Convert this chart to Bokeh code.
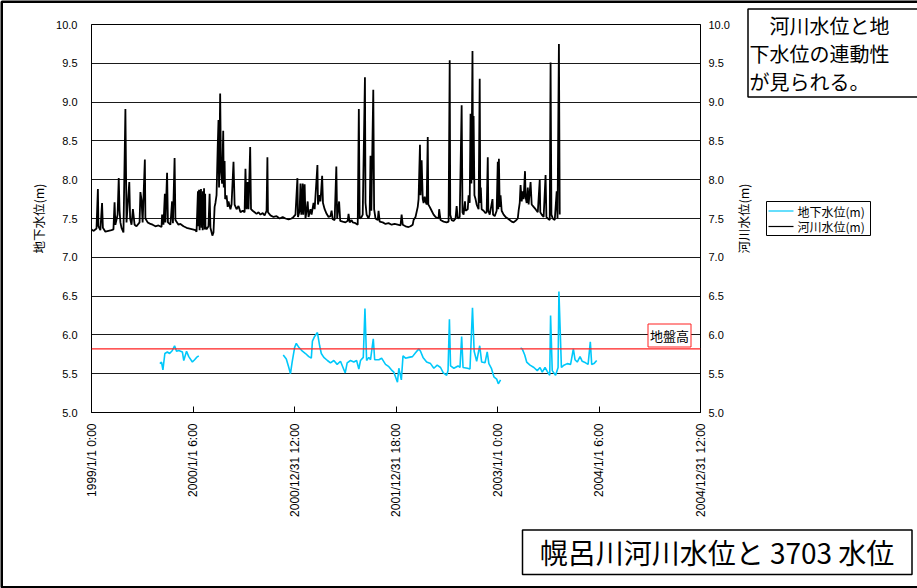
import math

import numpy as np
import pandas as pd
from bokeh.core.properties import value
from bokeh.embed import file_html
from bokeh.models import (FixedTicker, Label, LinearAxis, PrintfTickFormatter,
                          Range1d, Span)
from bokeh.plotting import figure
from bokeh.resources import INLINE

# ---------------------------------------------------------------- data
RECORD_START = pd.Timestamp("1999-01-01 00:00")

# River stage (m), elapsed days since the record start
river_days = [
    0, 7, 18, 23, 25, 32, 38, 41, 50, 61,
    72, 79, 83, 86, 94, 98, 101, 104, 108, 115,
    122, 126, 136, 139, 144, 149, 155, 162, 173, 176,
    180, 184, 192, 194, 202, 212, 220, 230, 241, 252,
    254, 259, 264, 266, 272, 275, 284, 290, 293, 299,
    302, 313, 320, 331, 342, 353, 364, 374, 378, 383,
    385, 387, 389, 391, 392, 394, 396, 398, 400, 401,
    403, 405, 407, 409, 410, 414, 421, 425, 428, 435,
    439, 443, 446, 450, 454, 457, 459, 463, 466, 470,
    474, 476, 479, 481, 486, 490, 493, 500, 504, 511,
    515, 522, 529, 536, 544, 551, 554, 558, 562, 565,
    571, 574, 580, 587, 594, 601, 608, 616, 623, 630,
    633, 635, 644, 655, 666, 677, 688, 698, 709, 720,
    727, 734, 741, 743, 749, 752, 755, 760, 762, 767,
    770, 774, 778, 781, 788, 792, 799, 803, 813, 815,
    821, 824, 830, 833, 839, 846, 853, 860, 864, 868,
    875, 881, 884, 891, 895, 904, 914, 922, 925, 929,
    936, 940, 950, 958, 962, 965, 972, 976, 984, 986,
    990, 997, 1001, 1004, 1007, 1014, 1017, 1022, 1030, 1033,
    1037, 1048, 1058, 1069, 1080, 1091, 1102, 1112, 1116, 1120,
    1130, 1141, 1148, 1156, 1159, 1166, 1174, 1177, 1182, 1184,
    1188, 1192, 1195, 1199, 1202, 1206, 1210, 1212, 1217, 1224,
    1231, 1238, 1249, 1251, 1256, 1267, 1278, 1285, 1289, 1291,
    1296, 1303, 1310, 1314, 1318, 1325, 1332, 1335, 1339, 1344,
    1346, 1354, 1357, 1361, 1364, 1367, 1371, 1373, 1375, 1378,
    1382, 1386, 1393, 1397, 1399, 1401, 1404, 1411, 1418, 1422,
    1426, 1428, 1433, 1443, 1445, 1451, 1458, 1462, 1464, 1466,
    1469, 1472, 1476, 1483, 1490, 1498, 1505, 1512, 1519, 1526,
    1534, 1537, 1541, 1544, 1548, 1552, 1555, 1560, 1562, 1566,
    1570, 1573, 1580, 1584, 1591, 1598, 1606, 1613, 1615, 1620,
    1627, 1634, 1637, 1642, 1649, 1652, 1655, 1660, 1667, 1674,
    1677, 1682, 1685,
]
river_level = [
    7.36, 7.34, 7.37, 7.88, 7.40, 7.35, 7.70, 7.38, 7.33, 7.34,
    7.35, 7.36, 7.71, 7.42, 7.55, 8.02, 7.60, 7.45, 7.38, 7.32,
    8.91, 7.45, 7.97, 7.50, 7.42, 7.62, 7.42, 7.40, 7.45, 7.84,
    7.74, 7.45, 8.26, 7.50, 7.45, 7.43, 7.42, 7.40, 7.41, 7.39,
    7.55, 7.42, 7.82, 7.45, 8.09, 7.45, 7.42, 7.72, 7.44, 8.28,
    7.48, 7.42, 7.43, 7.40, 7.38, 7.37, 7.36, 7.35, 7.33, 7.85,
    7.40, 7.87, 7.35, 7.86, 7.45, 7.88, 7.38, 7.80, 7.35, 7.85,
    7.42, 7.89, 7.36, 7.82, 7.40, 7.36, 7.40, 7.82, 7.38, 7.28,
    7.32, 7.65, 7.70, 7.80, 8.40, 8.77, 7.90, 9.11, 8.10, 7.95,
    8.63, 7.90, 8.24, 7.75, 7.80, 7.65, 7.72, 7.62, 7.68, 8.23,
    7.68, 7.62, 7.66, 7.58, 7.60, 7.58, 8.14, 7.62, 7.97, 7.62,
    8.42, 7.62, 7.60, 7.58, 7.56, 7.58, 7.55, 7.57, 7.54, 7.60,
    8.29, 7.58, 7.54, 7.52, 7.53, 7.50, 7.52, 7.50, 7.49, 7.50,
    7.52, 7.55, 8.02, 7.52, 7.60, 7.95, 7.55, 7.95, 7.55, 7.94,
    7.50, 7.60, 7.72, 7.52, 7.62, 7.55, 7.70, 7.62, 8.19, 7.68,
    7.80, 7.72, 8.05, 7.70, 7.62, 7.56, 7.52, 7.53, 7.60, 7.49,
    7.48, 8.17, 7.50, 7.72, 7.47, 7.46, 7.45, 7.47, 7.56, 7.45,
    7.48, 7.45, 7.44, 7.42, 8.91, 7.50, 7.52, 7.55, 9.32, 7.70,
    7.55, 7.50, 7.55, 8.31, 7.60, 9.16, 7.62, 7.50, 7.48, 7.60,
    7.46, 7.45, 7.43, 7.44, 7.42, 7.43, 7.42, 7.41, 7.55, 7.42,
    7.40, 7.39, 7.40, 7.42, 7.48, 7.52, 7.65, 7.75, 8.45, 7.80,
    8.25, 7.75, 7.70, 7.78, 7.72, 7.68, 8.55, 7.68, 7.65, 7.60,
    7.55, 7.52, 7.50, 7.62, 7.48, 7.46, 7.45, 7.46, 9.54, 7.55,
    7.48, 7.47, 7.50, 7.66, 7.50, 7.52, 8.96, 7.58, 7.55, 7.72,
    7.60, 7.62, 7.80, 7.70, 8.85, 7.95, 9.66, 8.00, 8.82, 7.80,
    7.75, 7.68, 7.62, 9.30, 7.70, 7.90, 7.62, 7.60, 7.57, 7.58,
    8.29, 7.60, 7.55, 7.75, 7.55, 7.53, 7.60, 8.23, 7.62, 8.27,
    7.65, 7.80, 7.60, 7.55, 7.52, 7.50, 7.48, 7.46, 7.45, 7.47,
    7.50, 7.60, 7.70, 7.93, 7.72, 7.85, 7.75, 8.11, 7.78, 7.70,
    7.90, 7.68, 7.97, 7.68, 7.65, 7.62, 7.58, 8.00, 7.58, 7.55,
    7.52, 8.06, 7.52, 7.50, 7.48, 9.51, 7.55, 7.50, 7.48, 7.85,
    7.50, 9.75, 7.55,
]

# Groundwater level at well 3703 (m); None marks a break in the record
gw_days = [
    246, 252, 257, 264, 273, 281, 291, 299, 306, 314,
    327, 332, 342, 350, 363, 371, 378, 386, 387,
    690, 701, 710, 716, 722, 731, 737, 746, 759, 770,
    782, 791, 795, 803, 813, 821, 827, 836, 849, 860,
    872, 884, 896, 905, 913, 920, 932, 944, 954, 962,
    968, 978, 984, 990, 998, 1004, 1014, 1019, 1034, 1044,
    1058, 1070, 1079, 1088, 1101, 1106, 1115, 1121, 1130, 1142,
    1155, 1166, 1178, 1184, 1193, 1206, 1220, 1232, 1244, 1256,
    1266, 1278, 1283, 1288, 1292, 1304, 1319, 1326, 1332, 1337,
    1353, 1362, 1371, 1377, 1386, 1397, 1404, 1416, 1424, 1430,
    1439, 1448, 1458, 1464, 1472, 1473,
    1544, 1550, 1559, 1566, 1578, 1592, 1604, 1614, 1622, 1632,
    1640, 1649, 1652, 1658, 1670, 1679, 1682, 1691, 1700, 1712,
    1724, 1734, 1740, 1748, 1758, 1766, 1778, 1787, 1795, 1800,
    1808, 1818,
]
gw_level = [
    5.63, 5.65, 5.55, 5.76, 5.78, 5.76, 5.80, 5.86, 5.79, 5.80,
    5.78, 5.67, 5.79, 5.72, 5.65, 5.68, 5.71, 5.73, None,
    5.74, 5.69, 5.58, 5.50, 5.65, 5.84, 5.89, 5.84, 5.79, 5.76,
    5.72, 5.70, 5.92, 5.98, 6.03, 5.86, 5.76, 5.71, 5.67, 5.64,
    5.67, 5.62, 5.66, 5.58, 5.51, 5.64, 5.67, 5.65, 5.67, 5.56,
    5.67, 5.71, 6.34, 5.67, 5.71, 5.68, 5.95, 5.68, 5.68, 5.70,
    5.62, 5.59, 5.55, 5.52, 5.39, 5.57, 5.42, 5.73, 5.70, 5.71,
    5.72, 5.77, 5.82, 5.79, 5.71, 5.65, 5.63, 5.57, 5.61, 5.58,
    5.51, 5.48, 5.54, 6.20, 5.60, 5.57, 5.60, 5.58, 5.98, 5.58,
    5.57, 5.56, 6.35, 5.79, 5.66, 5.86, 5.65, 5.64, 5.78, 5.63,
    5.57, 5.46, 5.43, 5.37, 5.42, None,
    5.83, 5.82, 5.74, 5.65, 5.61, 5.58, 5.54, 5.58, 5.52, 5.58,
    5.53, 5.48, 6.25, 5.54, 5.48, 5.58, 6.56, 5.58, 5.61, 5.63,
    5.62, 5.82, 5.68, 5.65, 5.72, 5.66, 5.64, 5.62, 5.91, 5.62,
    5.63, 5.67,
]

ground_elevation = 5.82  # 地盤高 (m)

y_ticks = [5.0, 5.5, 6.0, 6.5, 7.0, 7.5, 8.0, 8.5, 9.0, 9.5, 10.0]
x_tick_labels = [
    "1999/1/1 0:00", "2000/1/1 6:00", "2000/12/31 12:00", "2001/12/31 18:00",
    "2003/1/1 0:00", "2004/1/1 6:00", "2004/12/31 12:00",
]

series_names = ["地下水位(m)", "河川水位(m)"]
series_colors = ["#00C8FA", "black"]
title_text = "幌呂川河川水位と 3703 水位"
note_lines = ["　河川水位と地", "下水位の連動性", "が見られる。"]

# ---------------------------------------------------------------- helpers
JP = "Noto Sans CJK JP"
LAT = "Liberation Sans"

river_t = RECORD_START + pd.to_timedelta(np.array(river_days, dtype=float), unit="D")
gw_t = RECORD_START + pd.to_timedelta(np.array(gw_days, dtype=float), unit="D")
gw_y = np.array(gw_level, dtype=float)

tick_times = pd.to_datetime(x_tick_labels, format="%Y/%m/%d %H:%M")
tick_ms = [int(t.value // 10**6) for t in tick_times]

# ---------------------------------------------------------------- figure
FRAME_L, FRAME_T, FRAME_W, FRAME_H = 91, 24, 609, 388
CANVAS_W, CANVAS_H = 917, 588

p = figure(
    frame_width=FRAME_W, frame_height=FRAME_H,
    min_border_left=FRAME_L, min_border_right=CANVAS_W - FRAME_L - FRAME_W,
    min_border_top=FRAME_T, min_border_bottom=CANVAS_H - FRAME_T - FRAME_H,
    x_axis_type="datetime",
    x_range=Range1d(tick_times[0], tick_times[-1]),
    y_range=Range1d(y_ticks[0], y_ticks[-1]),
    output_backend="svg", toolbar_location=None,
    background_fill_color="white", border_fill_color="white",
)
p.outline_line_color = "black"
p.outline_line_width = 1

# a page-pixel coordinate system for the sheet decorations around the chart
p.extra_x_ranges["page"] = Range1d(FRAME_L, FRAME_L + FRAME_W)
p.extra_y_ranges["page"] = Range1d(FRAME_T + FRAME_H, FRAME_T)

p.xgrid.visible = False
p.ygrid.ticker = FixedTicker(ticks=y_ticks)
p.ygrid.grid_line_color = "#1a1a1a"
p.ygrid.grid_line_width = 1


def style_y_axis(ax, standoff):
    ax.ticker = FixedTicker(ticks=y_ticks)
    ax.formatter = PrintfTickFormatter(format="%.1f")
    ax.major_tick_in = 0
    ax.major_tick_out = 0
    ax.minor_tick_in = 0
    ax.minor_tick_out = 0
    ax.axis_line_color = "black"
    ax.major_label_text_font = LAT
    ax.major_label_text_font_size = "11px"
    ax.major_label_text_color = "black"
    ax.major_label_standoff = standoff


left_axis = p.yaxis[0]
style_y_axis(left_axis, 14)
left_axis.axis_label = series_names[0]
left_axis.axis_label_text_font = JP
left_axis.axis_label_text_font_size = "12.5px"
left_axis.axis_label_text_font_style = "normal"
left_axis.axis_label_text_color = "black"
left_axis.axis_label_standoff = 5

right_axis = LinearAxis()
style_y_axis(right_axis, 8)
p.add_layout(right_axis, "right")

xa = p.xaxis[0]
xa.ticker = FixedTicker(ticks=tick_ms)
xa.major_label_overrides = dict(zip(tick_ms, x_tick_labels))
xa.major_label_orientation = math.pi / 2
xa.major_tick_in = 6
xa.major_tick_out = 0
xa.minor_tick_in = 0
xa.minor_tick_out = 0
xa.axis_line_color = "black"
xa.major_label_standoff = 11
xa.major_label_text_font = LAT
xa.major_label_text_font_size = "12px"
xa.major_label_text_color = "black"

# ---------------------------------------------------------------- series
p.line(river_t, river_level, line_color=series_colors[1], line_width=1.8)
p.line(gw_t, gw_y, line_color=series_colors[0], line_width=1.6)

p.add_layout(Span(location=ground_elevation, dimension="width",
                  line_color="#FF2020", line_width=1.2))

p.add_layout(Label(
    x=669 - FRAME_L, y=FRAME_T + FRAME_H - 335, x_units="screen", y_units="screen",
    text="地盤高", text_align="center", text_baseline="middle",
    text_font=JP, text_font_size="13px", text_color="black",
    background_fill_color="white", border_line_color="#FF2020",
    border_line_width=1, padding=2,
))

# ---------------------------------------------------------------- sheet decorations
deco = dict(x_range_name="page", y_range_name="page", level="overlay")

# right-hand axis title, reading bottom to top like the left one
p.text(x=[743], y=[218], text=[series_names[1]], angle=math.pi / 2,
       text_align="center", text_baseline="middle",
       text_font=value(JP), text_font_size="12.5px", text_color="black", **deco)

# series key, to the right of the chart
key_rows = [210.5, 226]
p.quad(left=[766], right=[870], top=[201], bottom=[235],
       fill_color="white", line_color="black", line_width=1, **deco)
p.segment(x0=[768, 768], x1=[793, 793], y0=key_rows, y1=key_rows,
          line_color=series_colors, line_width=1.2, **deco)
p.text(x=[797, 797], y=key_rows, text=series_names,
       text_align="left", text_baseline="middle",
       text_font=value(JP), text_font_size="12px", text_color="black", **deco)

# note box at the upper right
p.quad(left=[747.5], right=[940], top=[8.5], bottom=[96.5],
       fill_color="white", line_color="black", line_width=1.5, **deco)
p.text(x=[749] * 3, y=[24.5, 52.5, 80.5], text=note_lines,
       text_align="left", text_baseline="middle",
       text_font=value(JP), text_font_size="20px", text_color="black", **deco)

# chart title box
p.quad(left=[522], right=[911.5], top=[529.5], bottom=[574],
       fill_color="white", line_color="black", line_width=1.5, **deco)
p.text(x=[716.5], y=[551.5], text=[title_text],
       text_align="center", text_baseline="middle",
       text_font=value(JP), text_font_size="28px", text_color="black", **deco)

# sheet border
p.quad(left=[1.25], right=[940], top=[1.25], bottom=[586.75],
       fill_alpha=0, line_color="black", line_width=2.5, **deco)

open("out.html", "w").write(file_html(p, INLINE))
